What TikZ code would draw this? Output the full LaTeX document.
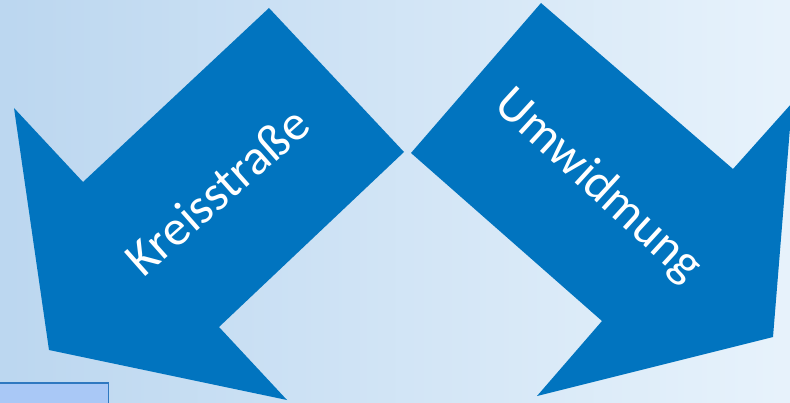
\documentclass[tikz,border=0pt]{standalone}
\usepackage{fontspec}
\setmainfont{Carlito}
\usepackage{tikz}
\usetikzlibrary{positioning,calc}

\definecolor{arrowblue}{HTML}{0174BF}
\definecolor{bgleft}{HTML}{B6D3EE}
\definecolor{bgright}{HTML}{EDF6FD}
\definecolor{boxblue}{HTML}{A9C8F6}
\definecolor{boxline}{HTML}{2F78C0}

\tikzset{
  bigarrow/.style={fill=arrowblue, draw=none},
  arrowtext/.style={text=white, font=\fontsize{50}{60}\selectfont, inner sep=0pt}
}

\begin{document}
\begin{tikzpicture}[x=1pt,y=1pt]
    \useasboundingbox (0,0) rectangle (790,402);
    \clip (0,0) rectangle (790,402);
    \shade[shading=axis, shading angle=80, left color=bgleft, right color=bgright] (-100,-100) rectangle (890,502);

    % left arrow
    \fill[bigarrow] (269,394) -- (404,250) -- (219,75) -- (287,2) -- (49,52)
        -- (14,294) -- (83,220) -- cycle;
    % right arrow
    \fill[bigarrow] (541,399) -- (733,233) -- (792,299) -- (773,65) -- (537,6)
        -- (602,81) -- (411,249) -- cycle;

    \node[arrowtext, rotate=41.5] (kreis) at (217,211) {Kreisstraße};
    \node[arrowtext, rotate=-42.5] (umwid) at (598,216) {Umwidmung};

    % box at the bottom
    \draw[boxline, fill=boxblue, line width=1.5pt] (-2,-5) rectangle (108.5,19);
\end{tikzpicture}
\end{document}
